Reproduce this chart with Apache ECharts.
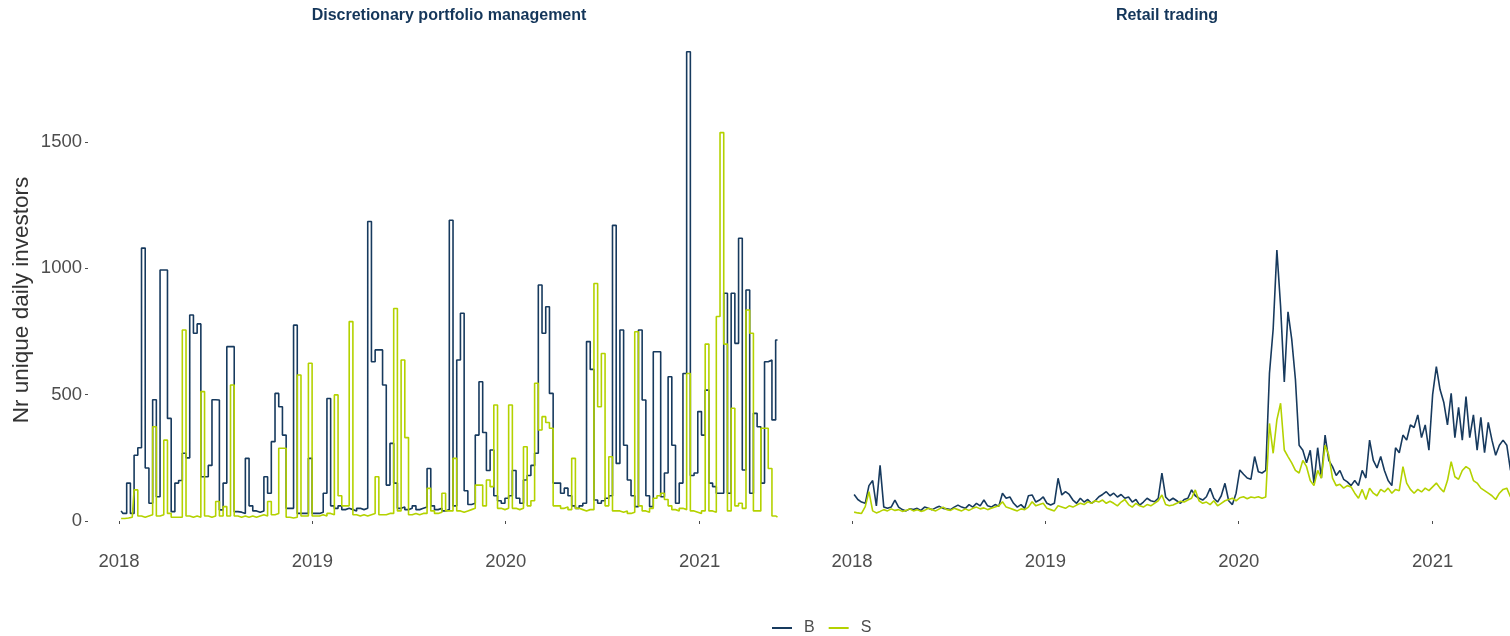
<!DOCTYPE html>
<html><head><meta charset="utf-8">
<script src="https://cdn.jsdelivr.net/npm/echarts@6/dist/echarts.min.js"></script>
<style>html,body{margin:0;padding:0;background:#fff}#c{width:1510px;height:636px}</style>
</head><body><div id="c"></div>
<script>
// Weekly values starting 2018-01-05
const startDate = '2018-01-05';
const panelTitles = ['Discretionary portfolio management', 'Retail trading'];
const seriesNames = ['B', 'S'];
const yTicks = [0, 500, 1000, 1500];
const xTickYears = [2018, 2019, 2020, 2021];

const dpmB = [40,30,150,30,260,290,1080,210,70,480,96,993,993,406,37,150,160,268,250,815,
743,780,175,175,220,480,479,44,150,690,690,37,35,30,248,60,40,35,40,175,
110,314,505,452,340,50,50,775,30,30,30,248,30,30,35,110,485,60,50,60,
45,50,45,40,50,45,50,1185,630,677,677,538,142,307,150,50,55,45,50,60,
45,50,55,208,60,45,50,40,45,1190,60,637,822,120,65,70,340,551,350,200,
281,100,80,70,90,100,200,90,70,162,180,220,268,934,743,848,505,150,150,110,
130,100,60,50,60,70,710,600,83,70,80,90,100,1170,228,756,300,162,100,57,
756,479,100,57,670,670,96,190,571,300,70,150,584,1857,180,190,433,340,518,150,
136,110,110,901,110,901,703,1119,202,914,110,426,373,150,630,637,400,716];

const dpmS = [10,10,12,15,123,20,15,20,25,373,20,25,320,30,15,15,15,756,20,15,
20,15,512,20,15,20,77,20,57,20,538,20,15,20,15,20,15,20,25,20,
77,25,30,288,288,15,12,15,578,20,20,624,20,20,25,20,30,25,499,100,
60,60,789,25,20,25,20,25,30,175,25,25,30,30,841,40,637,330,25,30,
25,30,30,129,40,30,35,110,40,40,248,40,35,40,45,50,142,142,60,162,
136,459,50,45,50,459,50,45,50,294,60,80,545,360,413,390,367,60,60,50,
55,45,248,50,45,40,45,45,940,452,663,60,254,40,40,35,40,30,35,749,
60,40,35,50,90,100,110,85,60,45,40,50,45,584,40,35,30,40,700,40,
35,809,1537,700,40,446,60,70,50,835,743,40,40,367,367,208,20,15];

const rtB = [105,85,75,70,140,160,60,220,55,50,55,83,55,45,40,48,45,50,42,55,
50,45,52,58,50,48,45,55,63,55,50,65,55,70,60,83,60,55,65,58,
110,90,95,70,55,65,50,100,103,75,83,95,70,63,70,169,103,116,105,83,
70,90,75,85,70,80,96,105,116,100,110,95,105,90,95,75,85,63,75,90,
80,76,90,189,95,80,90,80,70,85,90,123,100,90,83,96,129,90,75,100,
149,80,65,110,202,185,170,165,255,195,190,200,584,760,1072,850,550,828,720,560,
300,280,230,280,150,290,170,340,240,215,180,200,165,155,140,160,140,200,170,320,
240,210,255,200,160,140,290,270,340,320,380,370,420,330,380,280,500,611,520,470,
380,505,330,450,320,492,330,420,280,410,270,390,320,260,300,320,300,200];

const rtS = [35,32,30,57,116,40,32,38,45,40,48,42,45,38,42,48,40,45,38,42,
50,45,40,48,55,45,42,50,45,40,48,42,50,55,48,52,45,50,55,60,
76,55,50,45,40,48,45,55,76,60,65,70,50,45,40,60,55,50,60,55,
63,70,65,76,70,80,75,83,70,78,70,60,75,85,65,55,70,60,55,65,
60,70,80,103,65,60,63,70,78,75,83,90,123,80,70,75,65,80,60,70,
80,85,90,80,92,96,88,95,92,96,90,95,386,268,400,466,281,255,230,200,
190,240,215,160,140,200,170,300,260,170,140,145,130,140,135,110,90,125,85,130,
110,100,125,115,130,110,125,120,215,150,125,110,125,115,130,120,135,150,130,115,
160,235,175,165,200,215,205,160,150,130,120,110,100,85,110,125,130,95];

const colB = '#173a5e', colS = '#b4d200';
const DAY = 864e5;
const t0 = Date.parse(startDate + 'T00:00:00Z');
const toPairs = arr => arr.map((v, i) => [t0 + i * 7 * DAY, v]);

const pxPerDay = 193.5 / 365.25;
const gridL = [88, 821], gridW = [726, 689];
const xMin = Date.UTC(2018, 0, 1) - (119 - 88) / pxPerDay * DAY;
const xMaxs = gridW.map(w => xMin + w / pxPerDay * DAY);
const xTickVals = xTickYears.map(y => Date.UTC(y, 0, 1));

const font = 'Liberation Sans, Arial, sans-serif';
const chart = echarts.init(document.getElementById('c'), null, {renderer: 'canvas'});

function xAxis(idx) {
  return {
    type: 'value', gridIndex: idx, min: xMin, max: xMaxs[idx], offset: 23, scale: true,
    axisLine: {show: false},
    splitLine: {show: false},
    axisTick: {show: true, length: 3, customValues: xTickVals, lineStyle: {color: '#4d4d4d', width: 1}},
    axisLabel: {show: true, customValues: xTickVals, margin: 8, fontSize: 18.5, color: '#4d4d4d', fontFamily: font,
      formatter: v => String(new Date(v).getUTCFullYear())}
  };
}
function yAxis(idx) {
  return {
    type: 'value', gridIndex: idx, min: 0, max: 1947,
    axisLine: {show: false}, splitLine: {show: false},
    axisTick: {show: idx === 0, length: 3, customValues: yTicks, lineStyle: {color: '#4d4d4d'}},
    axisLabel: {show: idx === 0, customValues: yTicks, margin: 6, fontSize: 18.5, color: '#4d4d4d', fontFamily: font,
      formatter: v => String(v)}
  };
}
function lineSeries(name, data, idx, color, step) {
  return {
    name, type: 'line', xAxisIndex: idx, yAxisIndex: idx, data: toPairs(data),
    step: step ? 'middle' : false, showSymbol: false, symbol: 'none',
    lineStyle: {color, width: 1.6}, itemStyle: {color}, clip: true, animation: false
  };
}

chart.setOption({
  animation: false,
  grid: [
    {left: gridL[0], top: 29, width: gridW[0], bottom: 115},
    {left: gridL[1], top: 29, width: gridW[1], bottom: 115}
  ],
  xAxis: [xAxis(0), xAxis(1)],
  yAxis: [yAxis(0), yAxis(1)],
  legend: {
    data: seriesNames, left: 767, top: 615, itemWidth: 20, itemHeight: 2, itemGap: 14, icon: 'rect',
    textStyle: {fontSize: 16, color: '#4d4d4d', fontFamily: font, padding: [0, 0, 0, 7]}
  },
  graphic: [
    {type: 'text', x: 449, y: 16, style: {text: panelTitles[0], font: 'bold 16px ' + font, fill: '#14365a', align: 'center', verticalAlign: 'middle', textAlign: 'center', textVerticalAlign: 'middle'}},
    {type: 'text', x: 1167, y: 16, style: {text: panelTitles[1], font: 'bold 16px ' + font, fill: '#14365a', align: 'center', verticalAlign: 'middle', textAlign: 'center', textVerticalAlign: 'middle'}},
    {type: 'text', x: 22, y: 300, rotation: Math.PI / 2, style: {text: 'Nr unique daily investors', font: '22.5px ' + font, fill: '#333333', align: 'center', verticalAlign: 'middle', textAlign: 'center', textVerticalAlign: 'middle'}}
  ],
  series: [
    lineSeries('B', dpmB, 0, colB, true),
    lineSeries('S', dpmS, 0, colS, true),
    lineSeries('B', rtB, 1, colB, false),
    lineSeries('S', rtS, 1, colS, false)
  ]
});
</script></body></html>
